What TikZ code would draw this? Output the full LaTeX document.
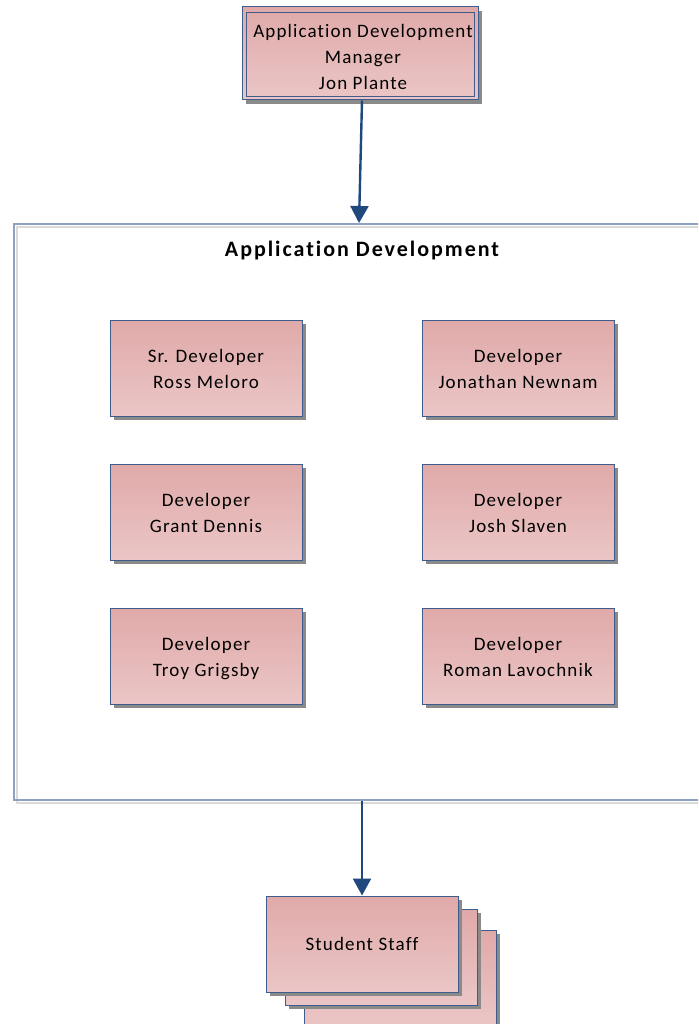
\documentclass[tikz,border=0pt]{standalone}
\usepackage{fontspec}
\setmainfont{Carlito}
\newfontfamily\boxfont[LetterSpace=6,Ligatures={NoCommon}]{Carlito}
\newfontfamily\titlefont[LetterSpace=9,Ligatures={NoCommon}]{Carlito}
\newcommand\tallstrut{\rule{0pt}{22pt}}
\usetikzlibrary{arrows.meta}
\definecolor{pinkTop}{HTML}{E0A9A9}
\definecolor{pinkBot}{HTML}{EBC6C6}
\definecolor{boxLine}{HTML}{3E5C8C}
\definecolor{shadowGray}{HTML}{8A8A8A}
\definecolor{grpLine}{HTML}{8EA2C2}
\definecolor{grpShadow}{HTML}{DADADA}
\definecolor{arrowBlue}{HTML}{1F497D}
\tikzset{
  person/.style={draw=boxLine, line width=1pt, top color=pinkTop, bottom color=pinkBot,
    minimum width=192pt, minimum height=96pt, inner sep=0pt, align=center,
    font=\boxfont\fontsize{19}{26}\selectfont},
  shadowbox/.style={fill=shadowGray, draw=none, minimum width=192pt, minimum height=96pt},
  conn/.style={draw=arrowBlue, line width=2.4pt, -{Triangle[length=17pt,width=18pt]}}
}
\begin{document}
\begin{tikzpicture}[x=1pt,y=-1pt]
\clip (0,0) rectangle (698,1024);
\fill[white] (0,0) rectangle (698,1024);

% manager
\fill[shadowGray] (246,11) rectangle (482,104);
\node[person, minimum width=236pt, minimum height=93pt] (mgr) at (360,53.5) {};
\draw[boxLine, line width=0.8pt] (246,12) rectangle (474,96);
\node[align=center, font=\boxfont\fontsize{19}{26}\selectfont] (mgrtxt) at (363,58) {\strut Application Development\\Manager\\Jon Plante\strut};

% group container
\draw[grpShadow, line width=1.6pt] (17,227) rectangle (720,803);
\draw[grpLine, line width=1.8pt] (14,224) rectangle (720,800);
\coordinate (grpTop) at (359,223);
\coordinate (grpBot) at (362,801);
\node[font=\titlefont\bfseries\fontsize{22}{26}\selectfont] (grptitle) at (362,251) {Application Development};

% developers
\foreach \n/\x/\y/\t in {
  d1/206/369/{Sr. Developer\\Ross Meloro},
  d2/518/369/{Developer\\Jonathan Newnam},
  d3/206/513/{Developer\\Grant Dennis},
  d4/518/513/{Developer\\Josh Slaven},
  d5/206/657/{Developer\\Troy Grigsby},
  d6/518/657/{Developer\\Roman Lavochnik}}{
  \node[shadowbox] (\n s) at (\x+4,\y+3) {};
  \node[person] (\n) at (\x,\y-1) {\tallstrut\t\strut};
}

% student staff stack
\node[shadowbox] (s3s) at (404,982) {};
\node[person] (s3) at (400,978) {};
\node[shadowbox] (s2s) at (385,961) {};
\node[person] (s2) at (381,957) {};
\node[shadowbox] (s1s) at (366,948) {};
\node[person] (s1) at (362,944) {Student Staff};

% connectors
\draw[conn] (mgr.south) ++(2,0) -- (grpTop);
\draw[conn] (grpBot) -- (s1.north);
\end{tikzpicture}
\end{document}
